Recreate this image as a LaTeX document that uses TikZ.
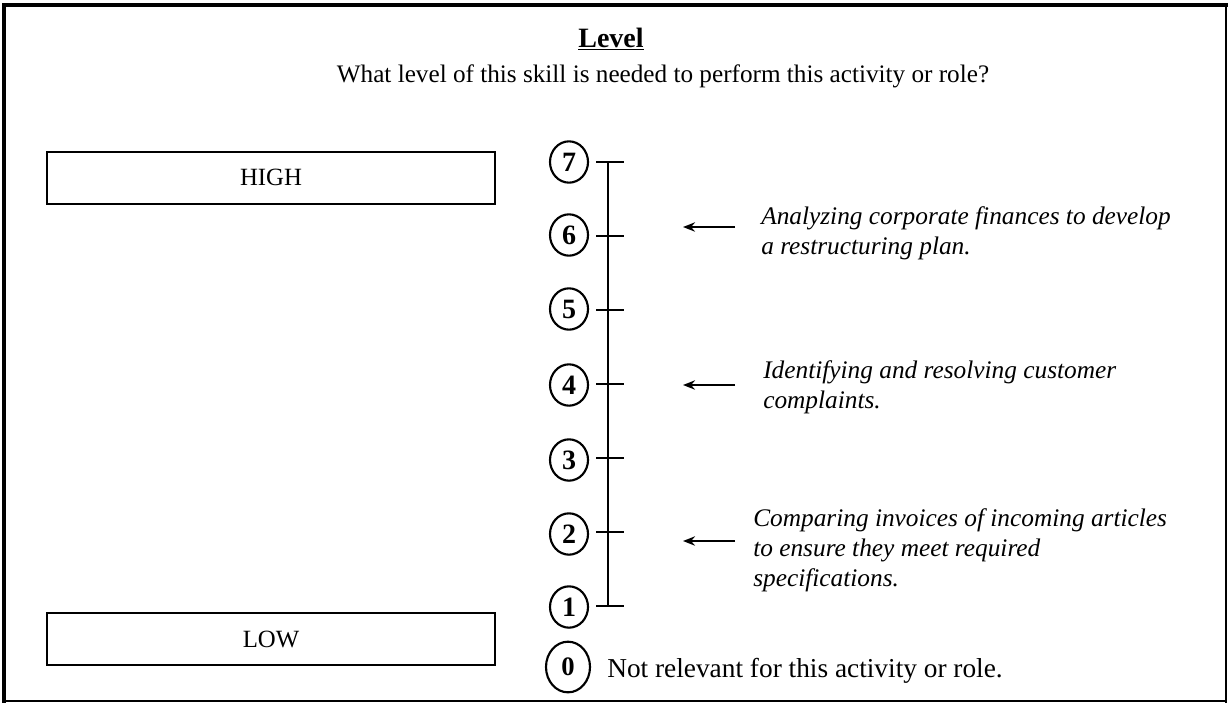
\documentclass[tikz,border=0pt]{standalone}
\usepackage{fontspec}
\setmainfont{Liberation Serif}
\usetikzlibrary{arrows.meta,shapes.geometric}
\begin{document}
\begin{tikzpicture}[x=0.75pt,y=-0.75pt,
  lvl/.style={draw, ellipse, line width=1.6pt, inner sep=0pt, minimum width=28.5pt, minimum height=31pt, font=\fontsize{21}{21}\selectfont\bfseries},
  zero/.style={draw, ellipse, line width=1.6pt, inner sep=0pt, minimum width=33pt, minimum height=38pt, font=\fontsize{20}{20}\selectfont\bfseries},
  rangebox/.style={draw, line width=1.5pt, inner sep=0pt, minimum width=336pt, minimum height=39pt, font=\fontsize{18.6}{20}\selectfont},
  example/.style={anchor=base west, align=left, inner sep=0pt, font=\fontsize{19}{22.5}\selectfont\itshape},
  axis/.style={line width=2.2pt},
  pointer/.style={line width=2pt, -{Stealth[length=9pt,width=7pt]}}
]
\useasboundingbox (0,0) rectangle (1230,704);
% frame
\draw[line width=3pt] (2,5) -- (1228,5);
\draw[line width=3pt] (4,3) -- (4,703);
\draw[line width=1.5pt] (1226,4) -- (1226,703);
\draw[line width=2pt] (3,701) -- (1227,701);
% titles
\node[anchor=base, inner sep=0pt, font=\fontsize{21}{24}\selectfont\bfseries] (title) at (611,47) {\underline{Level}};
\node[anchor=base, inner sep=0pt, font=\fontsize{18.9}{22}\selectfont] (question) at (663,82) {What level of this skill is needed to perform this activity or role?};
% range boxes
\node[rangebox] (high) at (271,177.5) {HIGH};
\node[rangebox] (low) at (271,639) {LOW};
% axis
\coordinate (t7) at (608,162);
\coordinate (t6) at (608,236);
\coordinate (t5) at (608,310);
\coordinate (t4) at (608,384);
\coordinate (t3) at (608,458);
\coordinate (t2) at (608,532);
\coordinate (t1) at (608,606);
\draw[axis] (t7) -- (t1);
\foreach \k in {1,...,7}{
  \draw[axis] ([xshift=-9pt]t\k) -- ([xshift=12pt]t\k);
}
\node[lvl] (c7) at (569,162) {7};
\node[lvl] (c6) at (569,235) {6};
\node[lvl] (c5) at (569,309) {5};
\node[lvl] (c4) at (569,385) {4};
\node[lvl] (c3) at (569,460) {3};
\node[lvl] (c2) at (569,534) {2};
\node[lvl] (c1) at (569,607) {1};
\node[zero] (c0) at (568,667) {0};
\node[anchor=base west, inner sep=0pt, font=\fontsize{20.5}{24}\selectfont] (notrel) at (607,677) {Not relevant for this activity or role.};
% examples (anchor = baseline of the last line)
\node[example] (ex6) at (761,254) {Analyzing corporate finances to develop\\a restructuring plan.};
\node[example] (ex4) at (763,408) {Identifying and resolving customer\\complaints.};
\node[example] (ex2) at (753,586) {Comparing invoices of incoming articles\\to ensure they meet required\\specifications.};
\coordinate (p6s) at (735,227); \coordinate (p6e) at (683,227);
\coordinate (p4s) at (735,385); \coordinate (p4e) at (683,385);
\coordinate (p2s) at (735,541); \coordinate (p2e) at (683,541);
\draw[pointer] (p6s) -- (p6e);
\draw[pointer] (p4s) -- (p4e);
\draw[pointer] (p2s) -- (p2e);
\end{tikzpicture}
\end{document}
